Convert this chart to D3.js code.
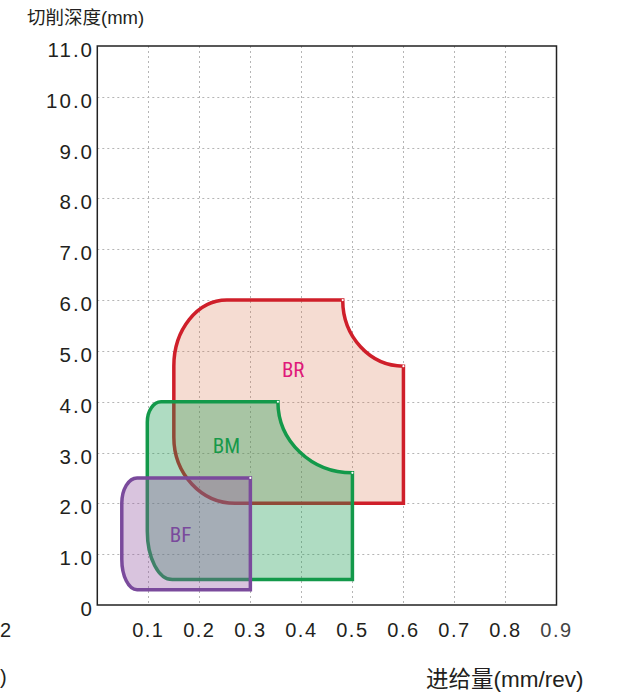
<!DOCTYPE html>
<html><head><meta charset="utf-8">
<script src="https://cdn.jsdelivr.net/npm/d3@7"></script>
<style>body{margin:0;background:#fff}svg{display:block}</style>
</head><body><svg id="c" width="626" height="692"></svg>
<script>
// ---- data ----
const xTicks = [0.1,0.2,0.3,0.4,0.5,0.6,0.7,0.8,0.9];
const xTickLabels = ["0.1","0.2","0.3","0.4","0.5","0.6","0.7","0.8","0.9"];
const yTicks = [0,1,2,3,4,5,6,7,8,9,10,11];
const yTickLabels = ["0","1.0","2.0","3.0","4.0","5.0","6.0","7.0","8.0","9.0","10.0","11.0"];
const grades = ["BR","BM","BF"];
// outline vertices: [feed, depth, segment type] ; "L" line, "C" convex corner arc, "V" concave arc
const brOutline = [[0.254,6.0,"M"],[0.481,6.0,"L"],[0.60,4.7,"V"],[0.60,2.0,"L"],[0.27,2.0,"L"],[0.15,3.3,"C"],[0.15,4.7,"L"],[0.254,6.0,"C"]];
const bmOutline = [[0.125,4.0,"M"],[0.354,4.0,"L"],[0.50,2.6,"V"],[0.50,0.5,"L"],[0.147,0.5,"L"],[0.098,1.45,"C"],[0.098,3.6,"L"],[0.125,4.0,"C"]];
const bfOutline = [[0.078,2.5,"M"],[0.30,2.5,"L"],[0.30,0.3,"L"],[0.078,0.3,"L"],[0.048,0.9,"C"],[0.048,2.0,"L"],[0.078,2.5,"C"]];
const labelPos = [[0.384,4.7],[0.253,3.2],[0.163,1.45]];
const outlines = [brOutline,bmOutline,bfOutline];
const strokeColors = ["#cf1f2a","#13994a","#7a4a9c"];
const fillColors = ["#d7734b","#1a9a50","#9256a1"];
const fillOpacity = [0.25,0.35,0.35];
const labelColors = ["#e0197a","#17994a","#7a4a9c"];

// ---- chart ----
const svg = d3.select("#c");
const x = d3.scaleLinear().domain([0,0.9]).range([97.3,556.5]);
const y = d3.scaleLinear().domain([0,11]).range([605,46]);
const tickFont = "'Liberation Sans', Arial, sans-serif";
const cjkFont = "'Liberation Sans', 'Noto Sans CJK SC', sans-serif";

// grid
const grid = svg.append("g").attr("stroke","#b5b5b5").attr("stroke-width",1).attr("stroke-dasharray","2,3");
grid.selectAll("line.v").data(xTicks.slice(0,-1)).join("line")
  .attr("x1",d=>Math.round(x(d))+0.5).attr("x2",d=>Math.round(x(d))+0.5).attr("y1",y(11)).attr("y2",y(0));
grid.selectAll("line.h").data(yTicks.slice(1,-1)).join("line")
  .attr("y1",d=>Math.round(y(d))+0.5).attr("y2",d=>Math.round(y(d))+0.5).attr("x1",x(0)).attr("x2",x(0.9));

// shapes
function pathFor(pts){
  let s = "";
  pts.forEach((p,i)=>{
    const px = x(p[0]), py = y(p[1]);
    if(p[2]==="M") s += `M${px},${py}`;
    else if(p[2]==="L") s += `L${px},${py}`;
    else {
      const q = pts[i-1];
      const rx = Math.abs(px-x(q[0])), ry = Math.abs(py-y(q[1]));
      s += `A${rx},${ry} 0 0 ${p[2]==="C"?1:0} ${px},${py}`;
    }
  });
  return s+"Z";
}
const shapes = svg.append("g");
outlines.forEach((o,i)=>{
  shapes.append("path").attr("d",pathFor(o))
    .attr("fill",fillColors[i]).attr("fill-opacity",fillOpacity[i])
    .attr("stroke",strokeColors[i]).attr("stroke-width",3.5).attr("stroke-linejoin","miter");
});
// small vertex marks at arc ends
const marks = [[0.481,6.0],[0.60,4.7],[0.354,4.0],[0.50,2.6],[0.30,2.5]];
svg.append("g").selectAll("circle").data(marks).join("circle")
  .attr("cx",d=>x(d[0])).attr("cy",d=>y(d[1])).attr("r",1.1).attr("fill","#fff");

// labels
svg.append("g").selectAll("text").data(grades).join("text")
  .attr("x",(d,i)=>x(labelPos[i][0])).attr("y",(d,i)=>y(labelPos[i][1])+4)
  .attr("text-anchor","middle").attr("dominant-baseline","central")
  .attr("font-family","'Roboto Condensed', Roboto, sans-serif").attr("font-size",21)
  .attr("fill",(d,i)=>labelColors[i]).text(d=>d);

// frame
svg.append("rect").attr("x",x(0)).attr("y",y(11)).attr("width",x(0.9)-x(0)).attr("height",y(0)-y(11))
  .attr("fill","none").attr("stroke","#222").attr("stroke-width",1.5);

// y axis labels
svg.append("g").selectAll("text").data(yTicks).join("text")
  .attr("x",94).attr("y",d=>y(d)+11).attr("text-anchor","end")
  .attr("font-family",tickFont).attr("font-size",20.5).attr("letter-spacing",2)
  .attr("fill","#231f20").text((d,i)=>yTickLabels[i]);
// x axis labels
svg.append("g").selectAll("text").data(xTicks).join("text")
  .attr("x",d=>x(d)).attr("y",637).attr("text-anchor","middle")
  .attr("font-family",tickFont).attr("font-size",20).attr("letter-spacing",1.5)
  .attr("fill",(d,i)=>i===xTicks.length-1?"#444":"#231f20").text((d,i)=>xTickLabels[i]);

// titles
svg.append("text").attr("x",27).attr("y",24).attr("font-family",cjkFont).attr("font-size",18.5)
  .attr("fill","#231f20").text("切削深度(mm)");
svg.append("text").attr("x",426).attr("y",687).attr("font-family",cjkFont).attr("font-size",22.5)
  .attr("fill","#231f20").text("进给量(mm/rev)");
// fragments at the left edge
svg.append("text").attr("x",0).attr("y",637).attr("font-family",tickFont)
  .attr("font-size",20).attr("fill","#231f20").text("2");
svg.append("text").attr("x",0).attr("y",684).attr("font-family",tickFont)
  .attr("font-size",20).attr("fill","#231f20").text(")");
</script></body></html>
